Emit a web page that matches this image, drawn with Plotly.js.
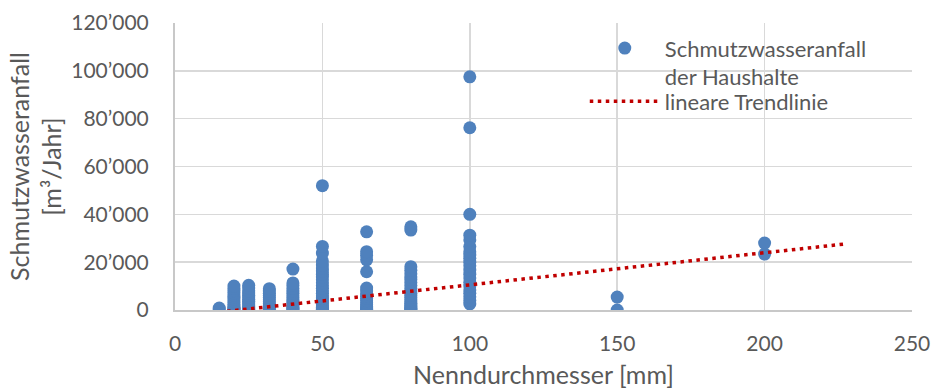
<!DOCTYPE html>
<html>
<head>
<meta charset="utf-8">
<script src="https://cdn.plot.ly/plotly-3.0.1.min.js"></script>
<style>
html,body{margin:0;padding:0;background:#fff;}
#chart{width:932px;height:391px;}
</style>
</head>
<body>
<div id="chart"></div>
<script>
// Nenndurchmesser [mm] groups and read-off Schmutzwasseranfall values [m3/Jahr]
const d15  = [300, 800];
const d20  = [0, 400, 900, 1500, 2200, 3000, 3800, 4600, 5500, 6300, 7200, 8100, 9000, 10000];
const d25  = [0, 300, 800, 1400, 2100, 2900, 3700, 4500, 5400, 6200, 7100, 8000, 9200, 10300];
const d32  = [0, 500, 1100, 1800, 2600, 3400, 4300, 5200, 6100, 7000, 7900, 8900];
const d40  = [0, 400, 1000, 1700, 2500, 3300, 4200, 5100, 6000, 7000, 8000, 9000, 10200, 11300, 17100];
const d50  = [0, 300, 700, 1200, 1800, 2500, 3300, 4100, 5000, 6000, 7000, 8000, 9100, 10200, 11400, 12600, 13800, 15000, 16300, 17600, 18800, 20500, 23800, 26600, 52000];
const d65  = [0, 400, 900, 1500, 2200, 3000, 3900, 4800, 5800, 6800, 7900, 9200, 16000, 21000, 22800, 24400, 32700];
const d80  = [0, 300, 800, 1400, 2000, 2700, 3500, 4300, 5200, 6100, 7000, 8000, 9000, 10200, 11500, 12800, 13900, 15200, 16600, 18100, 33400, 34800];
const d100 = [2500, 4000, 5500, 7000, 8400, 10000, 11600, 13400, 15000, 16700, 18500, 20000, 21600, 23000, 24400, 26500, 29300, 31300, 40000, 76200, 97500];
const d150 = [0, 5400];
const d200 = [23400, 28000];

const diameters = [15, 20, 25, 32, 40, 50, 65, 80, 100, 150, 200];
const groups = [d15, d20, d25, d32, d40, d50, d65, d80, d100, d150, d200];

// linear trend line end points
const trendX = [15, 228];
const trendY = [-900, 27700];

const yTickVals = [0, 20000, 40000, 60000, 80000, 100000, 120000];
const yTickText = ["0", "20\u2019000", "40\u2019000", "60\u2019000", "80\u2019000", "100\u2019000", "120\u2019000"];
const xTickVals = [0, 50, 100, 150, 200, 250];

const xs = [], ys = [];
groups.forEach((g, i) => g.forEach(v => { xs.push(diameters[i]); ys.push(v); }));

const FONT = "Lato, 'Liberation Sans Narrow', sans-serif";
const GREY = "#595959";

const traces = [
  {
    x: xs, y: ys, type: "scatter", mode: "markers",
    name: "Schmutzwasseranfall<br>der Haushalte",
    marker: {color: "#4F81BD", size: 13, line: {width: 0}},
    hoverinfo: "x+y", legend: "legend"
  },
  {
    x: trendX, y: trendY, type: "scatter", mode: "lines",
    name: "lineare Trendlinie",
    line: {color: "#C00000", width: 3.5, dash: "3.5px,4.5px"},
    hoverinfo: "skip", legend: "legend2"
  }
];

const legendCommon = {
  xanchor: "left", yanchor: "top",
  bgcolor: "rgba(255,255,255,0)", borderwidth: 0,
  font: {family: FONT, size: 22, color: GREY},
  itemwidth: 70, valign: "top"
};

const layout = {
  width: 932, height: 391,
  margin: {l: 175, r: 20, t: 23, b: 81},
  paper_bgcolor: "#fff", plot_bgcolor: "#fff",
  font: {family: FONT, size: 21, color: GREY},
  showlegend: true,
  legend: Object.assign({x: 0.556, y: 0.985}, legendCommon),
  legend2: Object.assign({x: 0.556, y: 0.800}, legendCommon),
  shapes: [{
    type: "rect", xref: "paper", yref: "paper", layer: "between",
    x0: 0.556, x1: 0.977, y0: 0.645, y1: 0.965,
    fillcolor: "#ffffff", line: {width: 0}
  }],
  xaxis: {
    range: [0, 250], tickvals: xTickVals, ticks: "", ticklabelstandoff: 14,
    showgrid: true, gridcolor: "#d9d9d9", gridwidth: 1.5,
    showline: true, linecolor: "#c8c8c8", linewidth: 2,
    zeroline: false, tickfont: {family: FONT, size: 21, color: GREY},
    title: {text: "Nenndurchmesser [mm]", standoff: 12, font: {family: FONT, size: 25, color: GREY}}
  },
  yaxis: {
    range: [0, 120000], tickvals: yTickVals, ticktext: yTickText, ticks: "", ticklabelstandoff: 20,
    showgrid: true, gridcolor: "#d9d9d9", gridwidth: 1.5,
    showline: true, linecolor: "#c8c8c8", linewidth: 2,
    zeroline: false, tickfont: {family: FONT, size: 21, color: GREY},
    title: {text: "Schmutzwasseranfall<br>[m\u00b3/Jahr]", standoff: 2, font: {family: FONT, size: 25, color: GREY}}
  }
};

Plotly.newPlot("chart", traces, layout, {displayModeBar: false, staticPlot: true});
</script>
</body>
</html>
